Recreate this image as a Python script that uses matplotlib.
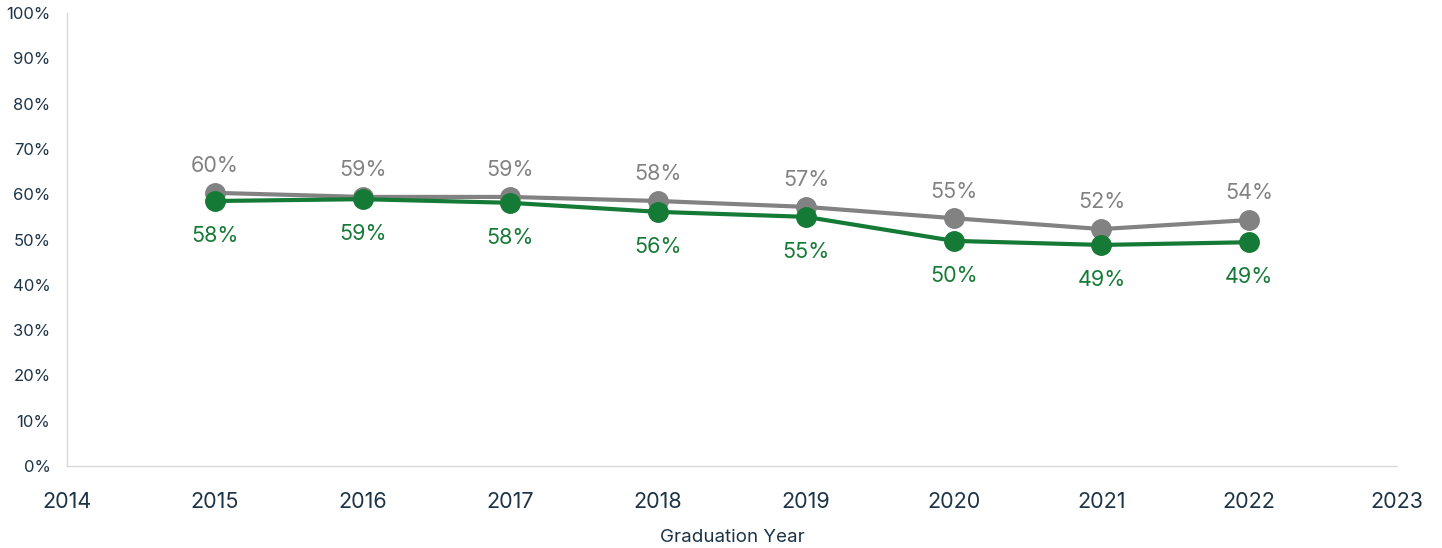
import matplotlib.pyplot as plt
from matplotlib.ticker import PercentFormatter

plt.rcParams['font.family'] = ['Inter', 'DejaVu Sans']

years = [2015, 2016, 2017, 2018, 2019, 2020, 2021, 2022]
gray_vals = [60.3, 59.4, 59.4, 58.5, 57.2, 54.7, 52.3, 54.3]
gray_labels = ['60%', '59%', '59%', '58%', '57%', '55%', '52%', '54%']
green_vals = [58.5, 58.9, 58.1, 56.1, 55.0, 49.7, 48.8, 49.4]
green_labels = ['58%', '59%', '58%', '56%', '55%', '50%', '49%', '49%']

gray = '#828282'
green = '#157a36'
text_col = '#1d3447'

fig = plt.figure(figsize=(14.42, 5.48), dpi=100)
ax = fig.add_axes([0.0465, 0.1496, 0.9223, 0.8267])

ax.plot(years, gray_vals, color=gray, lw=3, marker='o', ms=14, zorder=3)
ax.plot(years, green_vals, color=green, lw=3, marker='o', ms=14, zorder=4)

# data labels: gray above, green below
for x, y, s in zip(years, gray_vals, gray_labels):
    ax.annotate(s, (x, y), xytext=(0, 12), textcoords='offset points',
                ha='center', va='bottom', color=gray, fontsize=15.5)
for x, y, s in zip(years, green_vals, green_labels):
    ax.annotate(s, (x, y), xytext=(0, -18), textcoords='offset points',
                ha='center', va='top', color=green, fontsize=15.5)

ax.set_xlim(2014, 2023)
ax.set_ylim(0, 100)
ax.set_xticks(range(2014, 2024))
ax.set_yticks(range(0, 101, 10))
ax.yaxis.set_major_formatter(PercentFormatter(decimals=0))
ax.tick_params(axis='both', length=0, colors=text_col)
ax.tick_params(axis='y', labelsize=12, pad=12)
ax.tick_params(axis='x', labelsize=15.5, pad=19)
ax.set_xlabel('Graduation Year', fontsize=13.5, color=text_col, labelpad=12)

for side in ['top', 'right']:
    ax.spines[side].set_visible(False)
for side in ['left', 'bottom']:
    ax.spines[side].set_color('#d9d9d9')
    ax.spines[side].set_linewidth(1)

fig.savefig('out.png', dpi=100)
